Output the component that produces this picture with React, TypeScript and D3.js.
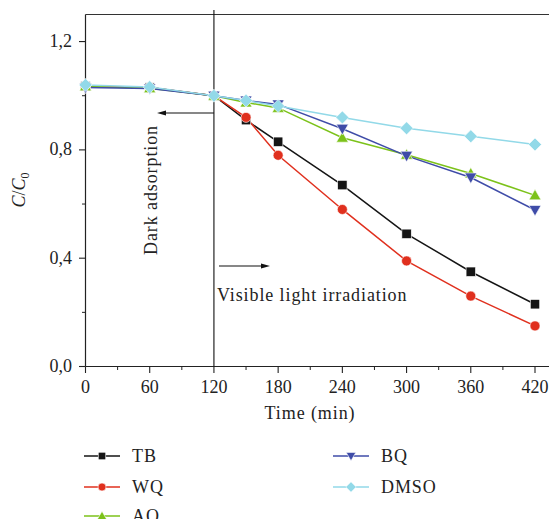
import React from "react";
import * as d3 from "d3";

const times = [0, 60, 120, 150, 180, 240, 300, 360, 420];
const seriesNames = ["TB", "WQ", "AQ", "BQ", "DMSO"];
const tbValues = [1.035, 1.03, 1.0, 0.91, 0.83, 0.67, 0.49, 0.35, 0.23];
const wqValues = [1.035, 1.03, 1.0, 0.92, 0.78, 0.58, 0.39, 0.26, 0.15];
const aqValues = [1.035, 1.028, 1.0, 0.975, 0.955, 0.845, 0.782, 0.713, 0.632];
const bqValues = [1.03, 1.027, 1.0, 0.982, 0.968, 0.878, 0.778, 0.698, 0.578];
const dmsoValues = [1.04, 1.032, 1.0, 0.982, 0.962, 0.92, 0.88, 0.85, 0.82];
const xTicks = [0, 60, 120, 180, 240, 300, 360, 420];
const yTicks = [0, 0.4, 0.8, 1.2];
const colors = ["#151515", "#e0301e", "#7cc21a", "#3f4ca8", "#92d9e8"];
const shapes = ["square", "circle", "triangle", "triangleDown", "diamond"];

const FONT = "'Liberation Serif', 'DejaVu Serif', serif";
const LS = 0.9;

function Marker({ shape, x, y, color, s = 1 }: { shape: string; x: number; y: number; color: string; s?: number }) {
  const k = s;
  if (shape === "square") return <rect x={x - 4.7 * k} y={y - 4.7 * k} width={9.4 * k} height={9.4 * k} fill={color} stroke="#fff" strokeWidth={0.6} />;
  if (shape === "circle") return <circle cx={x} cy={y} r={5 * k} fill={color} stroke="#fff" strokeWidth={0.6} />;
  if (shape === "triangle") return <path d={`M${x},${y - 6 * k}L${x + 6 * k},${y + 4.5 * k}L${x - 6 * k},${y + 4.5 * k}Z`} fill={color} stroke="#fff" strokeWidth={0.6} />;
  if (shape === "triangleDown") return <path d={`M${x},${y + 6 * k}L${x + 6 * k},${y - 4.5 * k}L${x - 6 * k},${y - 4.5 * k}Z`} fill={color} stroke="#fff" strokeWidth={0.6} />;
  return <path d={`M${x},${y - 6.5 * k}L${x + 6.5 * k},${y}L${x},${y + 6.5 * k}L${x - 6.5 * k},${y}Z`} fill={color} stroke="#fff" strokeWidth={0.6} />;
}

export default function App() {
  const W = 557, H = 527;
  const x = d3.scaleLinear().domain([0, 420]).range([85.5, 535]);
  const y = d3.scaleLinear().domain([0, 1.3]).range([366.5, 14.5]);
  const data = [tbValues, wqValues, aqValues, bqValues, dmsoValues];
  const line = d3.line<number>().x((_, i) => x(times[i])).y((d) => y(d));
  const xMinor = d3.range(30, 460, 60);
  const yMinor = [0.2, 0.6, 1.0];
  const legendPos = [
    [84, 456], [84, 487], [84, 516], [333, 456], [333, 487],
  ];
  const order = [0, 1, 2, 3, 4];
  return (
    <div style={{ margin: -8 }}>
      <svg width={W} height={H} style={{ display: "block", fontFamily: FONT }}>
        <rect width={W} height={H} fill="#fff" />
        <line x1={85.5} x2={557} y1={14.5} y2={14.5} stroke="#333" strokeWidth={1.2} />
        <line x1={85.5} x2={85.5} y1={14.5} y2={366.5} stroke="#222" strokeWidth={1.2} />
        <line x1={85.5} x2={557} y1={366.5} y2={366.5} stroke="#222" strokeWidth={1.2} />
        {xTicks.map((t) => (
          <g key={"xt" + t}>
            <line x1={x(t)} x2={x(t)} y1={366.5} y2={373} stroke="#222" strokeWidth={1.1} />
            <text x={x(t)} y={393} textAnchor="middle" fontSize={18} fill="#222">{t}</text>
          </g>
        ))}
        {xMinor.map((t) => (
          <line key={"xm" + t} x1={x(t)} x2={x(t)} y1={366.5} y2={370} stroke="#222" strokeWidth={1} />
        ))}
        {yTicks.map((t) => (
          <g key={"yt" + t}>
            <line x1={79} x2={85.5} y1={y(t)} y2={y(t)} stroke="#222" strokeWidth={1.1} />
            <text x={72} y={y(t) + 5.5} textAnchor="end" fontSize={18} fill="#222">{t.toFixed(1).replace(".", ",")}</text>
          </g>
        ))}
        {yMinor.map((t) => (
          <line key={"ym" + t} x1={82} x2={85.5} y1={y(t)} y2={y(t)} stroke="#222" strokeWidth={1} />
        ))}
        <text x={310} y={419} textAnchor="middle" fontSize={18} letterSpacing={LS} fill="#222">Time (min)</text>
        <text transform="translate(25,190) rotate(-90)" textAnchor="middle" fontSize={18} fill="#222">
          <tspan fontStyle="italic">C</tspan>/<tspan fontStyle="italic">C</tspan><tspan fontSize={12} dy={4}>0</tspan>
        </text>
        <line x1={x(120)} x2={x(120)} y1={10} y2={366.5} stroke="#111" strokeWidth={1.1} />
        <line x1={x(120)} x2={165} y1={113} y2={113} stroke="#111" strokeWidth={1.1} />
        <path d="M157,113L166,110.5L166,115.5Z" fill="#111" />
        <line x1={219} x2={262} y1={266} y2={266} stroke="#111" strokeWidth={1.1} />
        <path d="M270,266L261,263.5L261,268.5Z" fill="#111" />
        <text transform="translate(157,190) rotate(-90)" textAnchor="middle" fontSize={18} letterSpacing={LS} fill="#222">Dark adsorption</text>
        <text x={217} y={301} fontSize={18} letterSpacing={LS} fill="#222">Visible light irradiation</text>
        {order.map((si) => (
          <path key={"l" + si} d={line(data[si]) || ""} fill="none" stroke={colors[si]} strokeWidth={1.5} />
        ))}
        {order.map((si) => (
          <g key={"m" + si}>
            {data[si].map((v, i) => (
              <Marker key={i} shape={shapes[si]} x={x(times[i])} y={y(v)} color={colors[si]} />
            ))}
          </g>
        ))}
        {seriesNames.map((n, i) => {
          const [lx, ly] = legendPos[i];
          return (
            <g key={"lg" + n}>
              <line x1={lx} x2={lx + 36} y1={ly} y2={ly} stroke={colors[i]} strokeWidth={1.5} />
              <Marker shape={shapes[i]} x={lx + 18} y={ly} color={colors[i]} s={0.8} />
              <text x={lx + 48} y={ly + 6} fontSize={18} letterSpacing={LS} fill="#222">{n}</text>
            </g>
          );
        })}
      </svg>
    </div>
  );
}
